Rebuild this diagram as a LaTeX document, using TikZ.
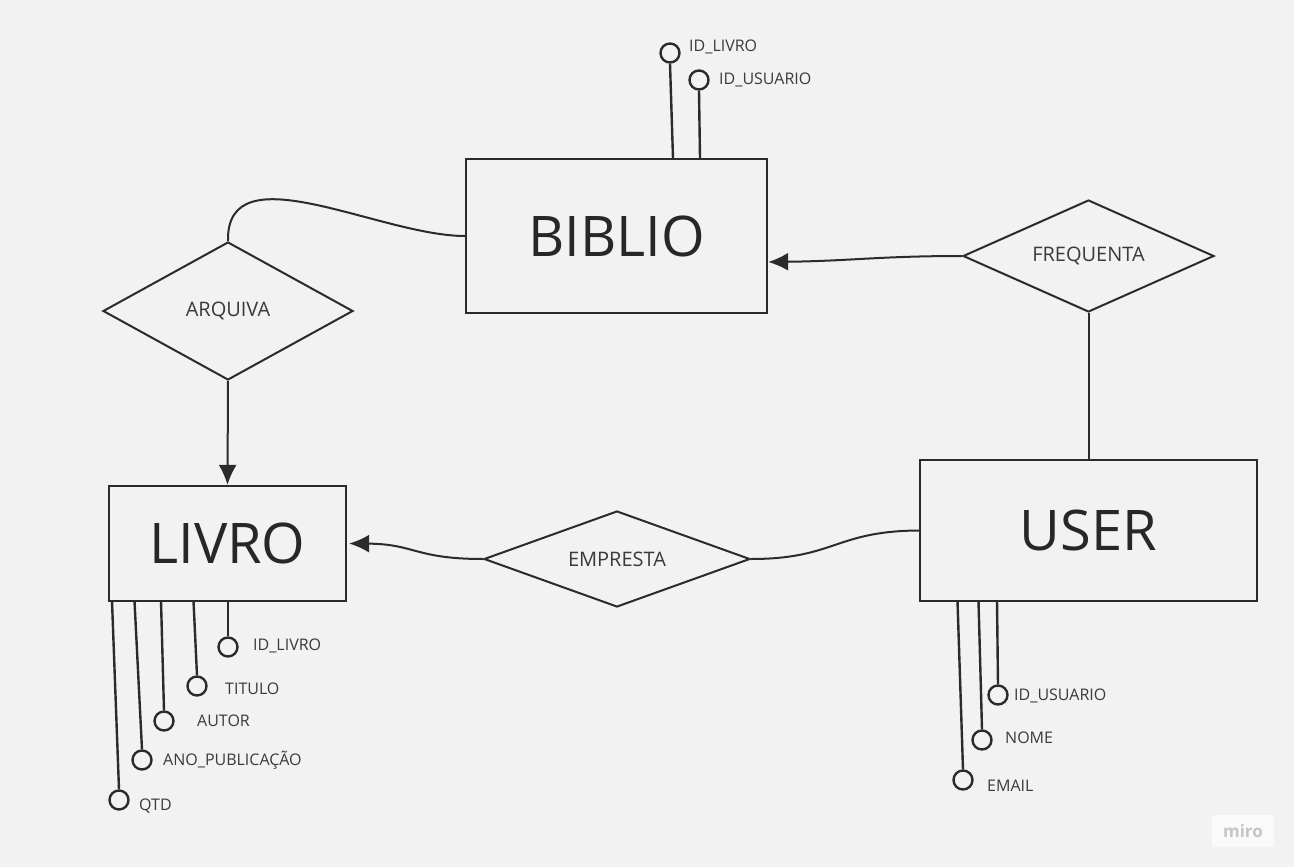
\documentclass[tikz,border=0pt]{standalone}
\usepackage{fontspec}
\setmainfont{Open Sans}
\usetikzlibrary{shapes.geometric,arrows.meta}
\definecolor{bg}{HTML}{F2F2F2}
\definecolor{ink}{HTML}{2B2B2B}
\definecolor{txt}{HTML}{3A3A3A}
\definecolor{mirotxt}{HTML}{C4C4CC}
\begin{document}
\begin{tikzpicture}[x=1pt,y=-1pt,
  ent/.style={draw=ink,line width=2.2pt,inner sep=0pt,font=\fontsize{56}{60}\selectfont,text=ink!90!black},
  rel/.style={draw=ink,line width=2pt,diamond,inner sep=0pt,font=\fontsize{20}{24}\selectfont,text=txt},
  attr/.style={draw=ink,line width=2.4pt,circle,inner sep=0pt,minimum size=19pt},
  alabel/.style={anchor=west,inner sep=0pt,font=\fontsize{16}{19}\selectfont,text=txt},
  conn/.style={draw=ink,line width=2pt},
  arr/.style={conn,-{Latex[length=20pt,width=18pt]}},
  stem/.style={draw=ink,line width=2.4pt}
]
\useasboundingbox[fill=bg] (0,0) rectangle (1294,867);

% entities
\node[ent,minimum width=301pt,minimum height=154pt] (biblio) at (616.5,236) {BIBLIO};
\node[ent,minimum width=237pt,minimum height=115pt] (livro) at (227.5,543.5) {LIVRO};
\node[ent,minimum width=337pt,minimum height=141pt] (user) at (1088.5,530.5) {USER};

% relationships
\node[rel,shape aspect=1.8,minimum width=250pt,minimum height=138pt] (arq) at (228,311) {ARQUIVA};
\node[rel,shape aspect=2.22,minimum width=251pt,minimum height=112pt] (freq) at (1088.5,256) {FREQUENTA};
\node[rel,shape aspect=2.73,minimum width=266pt,minimum height=96pt] (emp) at (617,559) {EMPRESTA};

% connectors
\draw[conn] (arq.north) .. controls (226,150) and (380,236) .. (biblio.west);
\draw[arr] (arq.south) -- (livro.north);
\draw[arr] (freq.west) .. controls (880,256) and (850,261) .. ([yshift=-26pt]biblio.east);
\draw[conn] (freq.south) -- (user.north);
\draw[conn] (user.west) .. controls (835,531) and (835,559) .. (emp.east);
\draw[arr] (emp.west) .. controls (415,559) and (415,544) .. ([xshift=2pt]livro.east);

% BIBLIO attributes
\node[attr] (bl) at (670,53) {};
\node[attr] (bu) at (699,80) {};
\coordinate (bl0) at (673,158);
\coordinate (bu0) at (700,158);
\draw[stem] (bl.south) -- (bl0);
\draw[stem] (bu.south) -- (bu0);
\node[alabel] (tbl) at (689,47) {ID\_LIVRO};
\node[alabel] (tbu) at (719,80) {ID\_USUARIO};

% LIVRO attributes
\node[attr] (la) at (228,647) {};
\node[attr] (lb) at (197,686) {};
\node[attr] (lc) at (164,721) {};
\node[attr] (ld) at (142,760) {};
\node[attr] (le) at (119,800) {};
\coordinate (la0) at (228,601);
\coordinate (lb0) at (193.5,601);
\coordinate (lc0) at (161,601);
\coordinate (ld0) at (134.5,601);
\coordinate (le0) at (112,601);
\draw[stem] (la0) -- (la.north);
\draw[stem] (lb0) -- (lb.north);
\draw[stem] (lc0) -- (lc.north);
\draw[stem] (ld0) -- (ld.north);
\draw[stem] (le0) -- (le.north);
\node[alabel] (tla) at (253,646) {ID\_LIVRO};
\node[alabel] (tlb) at (225,689) {TITULO};
\node[alabel] (tlc) at (197,721) {AUTOR};
\node[alabel] (tld) at (163,760) {ANO\_PUBLICAÇÃO};
\node[alabel] (tle) at (139,806) {QTD};

% USER attributes
\node[attr] (ua) at (998,695) {};
\node[attr] (ub) at (982,740) {};
\node[attr] (uc) at (963,780) {};
\coordinate (ua0) at (997,601);
\coordinate (ub0) at (978.5,601);
\coordinate (uc0) at (957.5,601);
\draw[stem] (ua0) -- (ua.north);
\draw[stem] (ub0) -- (ub.north);
\draw[stem] (uc0) -- (uc.north);
\node[alabel] (tua) at (1014,696) {ID\_USUARIO};
\node[alabel] (tub) at (1005,738) {NOME};
\node[alabel] (tuc) at (987,786) {EMAIL};

% miro mark
\node[fill=white!60!bg,rounded corners=2pt,minimum width=62pt,minimum height=32pt,text=mirotxt,font=\fontsize{17}{20}\selectfont\bfseries] (miro) at (1243,831) {miro};
\end{tikzpicture}
\end{document}
